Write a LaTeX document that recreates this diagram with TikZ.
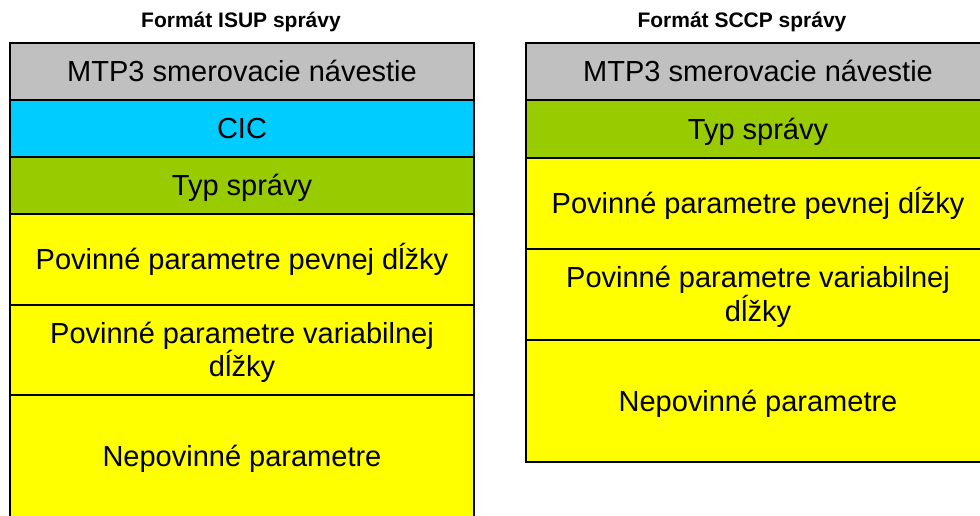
\documentclass[tikz,border=0pt]{standalone}
\usepackage{fontspec}
\setmainfont{Liberation Sans}
\definecolor{rowgray}{HTML}{C0C0C0}
\definecolor{rowcyan}{HTML}{00CCFF}
\definecolor{rowgreen}{HTML}{99CC00}
\definecolor{rowyellow}{HTML}{FFFF00}
\newcommand\stt{\rule[-0.212em]{0pt}{1.117em}}
\begin{document}
\begin{tikzpicture}[x=1pt,y=-1pt,
  cell/.style={draw=black, line width=2pt, minimum width=464pt, inner sep=0pt, outer sep=0pt,
    align=center, font=\fontsize{29}{33.35}\selectfont, anchor=north},
  ttl/.style={font=\bfseries\fontsize{21}{25}\selectfont, inner sep=0pt, anchor=base}]
\useasboundingbox (0,0) rectangle (980,516);
\clip (0,0) rectangle (980,516);
% titles
\node[ttl] (TL) at (241,28) {Formát ISUP správy};
\node[ttl] (TR) at (742,28) {Formát SCCP správy};
% left stack
\node[cell, fill=rowgray, minimum height=57pt] (L1) at (242,43) {\stt MTP3 smerovacie návestie};
\node[cell, fill=rowcyan, minimum height=57pt] (L2) at (L1.south) {\stt CIC};
\node[cell, fill=rowgreen, minimum height=57pt] (L3) at (L2.south) {\stt Typ správy};
\node[cell, fill=rowyellow, minimum height=90.5pt] (L4) at (L3.south) {\stt Povinné parametre pevnej dĺžky};
\node[cell, fill=rowyellow, minimum height=90.5pt] (L5) at (L4.south) {\stt Povinné parametre variabilnej\\\stt dĺžky};
\node[cell, fill=rowyellow, minimum height=122pt] (L6) at (L5.south) {\stt Nepovinné parametre};
% right stack
\node[cell, fill=rowgray, minimum height=57pt] (R1) at (758,43) {\stt MTP3 smerovacie návestie};
\node[cell, fill=rowgreen, minimum height=58pt] (R2) at (R1.south) {\stt Typ správy};
\node[cell, fill=rowyellow, minimum height=91pt] (R3) at (R2.south) {\stt Povinné parametre pevnej dĺžky};
\node[cell, fill=rowyellow, minimum height=91pt] (R4) at (R3.south) {\stt Povinné parametre variabilnej\\\stt dĺžky};
\node[cell, fill=rowyellow, minimum height=122pt] (R5) at (R4.south) {\stt Nepovinné parametre};
\end{tikzpicture}
\end{document}
